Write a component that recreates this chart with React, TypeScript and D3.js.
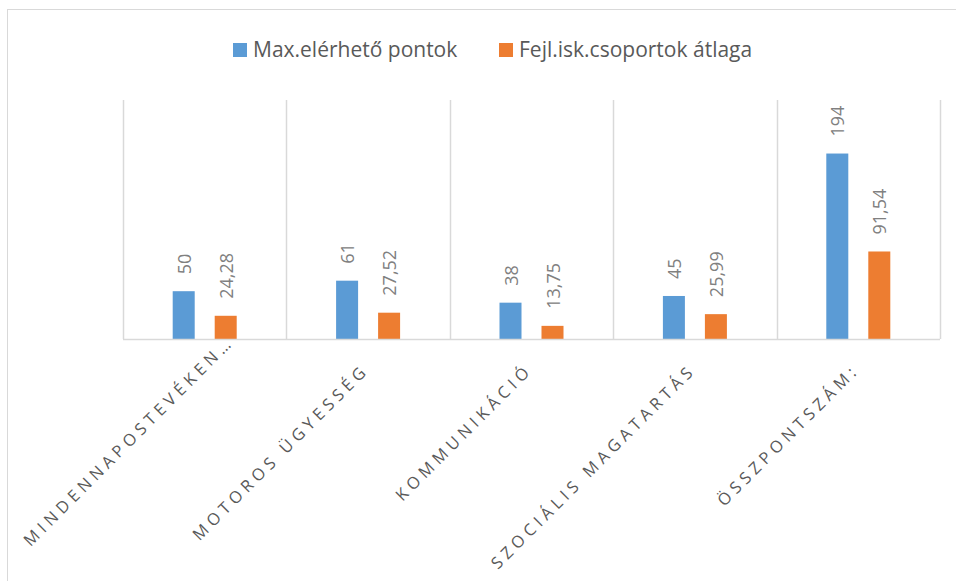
import * as d3 from "d3";
import { useEffect, useRef } from "react";

const categories = [
  "MINDENNAPOSTEVÉKEN…",
  "MOTOROS ÜGYESSÉG",
  "KOMMUNIKÁCIÓ",
  "SZOCIÁLIS MAGATARTÁS",
  "ÖSSZPONTSZÁM:",
];
const seriesNames = ["Max.elérhető pontok", "Fejl.isk.csoportok átlaga"];
const maxPoints = [50, 61, 38, 45, 194];
const groupAverage = [24.28, 27.52, 13.75, 25.99, 91.54];
const colors = ["#5b9bd5", "#ed7d31"];

export default function App() {
  const ref = useRef<SVGSVGElement | null>(null);

  useEffect(() => {
    const width = 956;
    const height = 581;
    const plot = { left: 123, right: 940, top: 100, bottom: 339 };
    const font = "'Open Sans', sans-serif";

    const svg = d3.select(ref.current);
    svg.selectAll("*").remove();

    // chart frame (runs past the picture on the right and bottom)
    svg
      .append("rect")
      .attr("x", 7.5)
      .attr("y", 9.5)
      .attr("width", width + 20)
      .attr("height", height + 20)
      .attr("fill", "#fff")
      .attr("stroke", "#d9d9d9");

    const x0 = d3
      .scaleBand<string>()
      .domain(categories)
      .range([plot.left, plot.right])
      .paddingInner(0);
    const bw = x0.bandwidth();
    const x1 = d3
      .scaleBand<string>()
      .domain(seriesNames)
      .range([bw / 2 - 32, bw / 2 + 32])
      .paddingInner(20 / 42);
    const y = d3.scaleLinear().domain([0, 250]).range([plot.bottom, plot.top]);

    // vertical gridlines at category borders
    const borders = categories.map((c) => x0(c) as number).concat([plot.right]);
    svg
      .append("g")
      .selectAll("line")
      .data(borders)
      .join("line")
      .attr("x1", (d) => Math.round(d) + 0.5)
      .attr("x2", (d) => Math.round(d) + 0.5)
      .attr("y1", plot.top)
      .attr("y2", plot.bottom)
      .attr("stroke", "#d9d9d9")
      .attr("stroke-width", 1.5);

    const rows = categories.map((c, i) => ({
      cat: c,
      values: [maxPoints[i], groupAverage[i]],
    }));

    const groups = svg
      .append("g")
      .selectAll("g")
      .data(rows)
      .join("g")
      .attr("transform", (d) => `translate(${x0(d.cat)},0)`);

    groups
      .selectAll("rect")
      .data((d) => d.values.map((v, j) => ({ v, s: seriesNames[j], j })))
      .join("rect")
      .attr("x", (d) => x1(d.s) as number)
      .attr("width", x1.bandwidth())
      .attr("y", (d) => y(d.v))
      .attr("height", (d) => y(0) - y(d.v))
      .attr("fill", (d) => colors[d.j]);

    const fmt = (v: number) =>
      Number.isInteger(v) ? String(v) : v.toFixed(2).replace(".", ",");

    groups
      .selectAll("text")
      .data((d) => d.values.map((v, j) => ({ v, s: seriesNames[j] })))
      .join("text")
      .attr(
        "transform",
        (d) =>
          `translate(${(x1(d.s) as number) + x1.bandwidth() / 2},${y(d.v) - 17}) rotate(-90)`
      )
      .attr("text-anchor", "start")
      .attr("dominant-baseline", "central")
      .attr("font-family", font)
      .attr("font-size", 18)
      .attr("fill", "#808080")
      .text((d) => fmt(d.v));

    // category axis line
    svg
      .append("line")
      .attr("x1", plot.left)
      .attr("x2", plot.right)
      .attr("y1", plot.bottom + 0.5)
      .attr("y2", plot.bottom + 0.5)
      .attr("stroke", "#d9d9d9")
      .attr("stroke-width", 1.5);

    // rotated category labels
    svg
      .append("g")
      .selectAll("text")
      .data(categories)
      .join("text")
      .attr(
        "transform",
        (d) =>
          `translate(${(x0(d) as number) + bw / 2 + 2},${plot.bottom + 32}) rotate(-45)`
      )
      .attr("dx", (d, i) => (i === 0 ? 40 : 0))
      .attr("text-anchor", "end")
      .attr("font-family", font)
      .attr("font-size", 16.5)
      .attr("letter-spacing", 4.6)
      .attr("fill", "#595959")
      .text((d) => d);

    // legend
    const legendX = [233, 499];
    const legend = svg
      .append("g")
      .selectAll("g")
      .data(seriesNames)
      .join("g")
      .attr("transform", (d, i) => `translate(${legendX[i]},43)`);
    legend
      .append("rect")
      .attr("width", 14)
      .attr("height", 14)
      .attr("fill", (d, i) => colors[i]);
    legend
      .append("text")
      .attr("x", 20)
      .attr("y", 14)
      .attr("font-family", font)
      .attr("font-size", 21)
      .attr("fill", "#595959")
      .text((d) => d);
  });

  return (
    <svg
      ref={ref}
      width={956}
      height={581}
      style={{ position: "absolute", left: 0, top: 0, display: "block" }}
    />
  );
}
